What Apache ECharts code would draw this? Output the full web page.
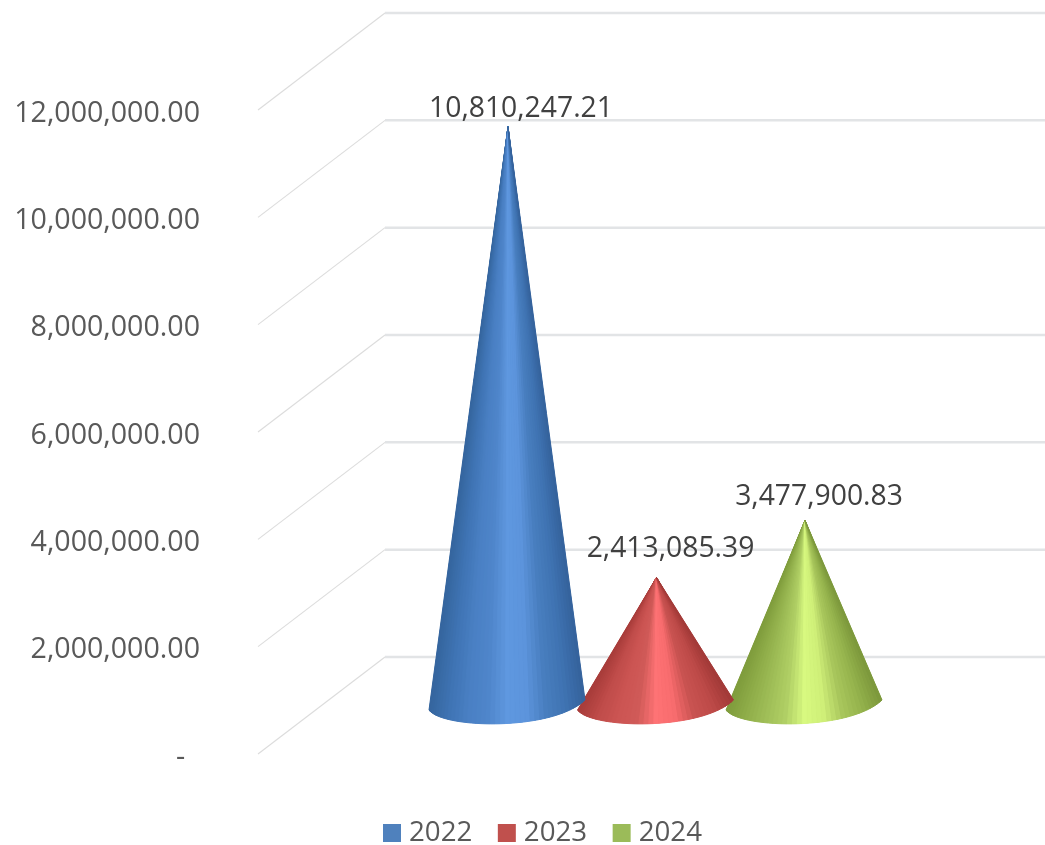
<!DOCTYPE html>
<html>
<head>
<meta charset="utf-8">
<style>html,body{margin:0;padding:0;background:#fff}#c{width:1045px;height:845px}</style>
<script src="https://cdn.jsdelivr.net/npm/echarts@6/dist/echarts.min.js"></script>
</head>
<body>
<div id="c"></div>
<script>
var years = ['2022', '2023', '2024'];
var values = [10810247.21, 2413085.39, 3477900.83];
var valueLabels = ['10,810,247.21', '2,413,085.39', '3,477,900.83'];
var yTicks = [0, 2000000, 4000000, 6000000, 8000000, 10000000, 12000000];
var yTickLabels = ['-  ', '2,000,000.00', '4,000,000.00', '6,000,000.00', '8,000,000.00', '10,000,000.00', '12,000,000.00'];
var categories = ['Total'];

// styling
var legendColors = ['#4f81bd', '#c0504d', '#9bbb59'];
var ramps = [
  ['#35659e', '#3f74b4', '#4a80c4', '#4f86cb', '#5f98e0', '#5c94dc', '#487ebf', '#3f73b2', '#34619a'],
  ['#a83c3a', '#c04c4a', '#cc5553', '#d05a58', '#ff7375', '#f86c6e', '#c95351', '#bd4a48', '#a03836'],
  ['#7f9c3c', '#90ae4a', '#a0bf58', '#b0cf65', '#d8fa80', '#cfef78', '#a8c65c', '#94b24c', '#7a963a']
];
var WALL_DX = 127, WALL_DY = -97, DEPTH_DY = -47, DEPTH_DX = 62, SLOT = 148.5, R = 78;
var labelOffsets = [[13, -18], [14, -29], [14, -23]];

function hex(c) { return [1, 3, 5].map(function (i) { return parseInt(c.substr(i, 2), 16); }); }
function shade(ramp, t) {
  t = Math.max(0, Math.min(1, t));
  var p = t * (ramp.length - 1), i = Math.min(Math.floor(p), ramp.length - 2), f = p - i;
  var a = hex(ramp[i]), b = hex(ramp[i + 1]);
  return 'rgb(' + a.map(function (v, k) { return Math.round(v + (b[k] - v) * f); }).join(',') + ')';
}
function basePoint(cx, cy, t) {
  // cubic along the front of the tilted base ellipse, from left rim to right rim
  var u = 1 - t;
  var p0 = [-R - 1, 3], p1 = [-65, 22], p2 = [45, 24], p3 = [R - 1, -7];
  return [
    cx + u*u*u*p0[0] + 3*u*u*t*p1[0] + 3*u*t*t*p2[0] + t*t*t*p3[0],
    cy + u*u*u*p0[1] + 3*u*u*t*p1[1] + 3*u*t*t*p2[1] + t*t*t*p3[1]
  ];
}

function coneSeries(idx) {
  return {
    type: 'custom',
    name: years[idx],
    itemStyle: { color: legendColors[idx] },
    clip: false,
    z: 3 + (2 - idx),
    data: [[categories[0], values[idx]]],
    encode: { x: 0, y: 1 },
    renderItem: function (params, api) {
      var tip = api.coord([api.value(0), api.value(1)]);
      var zero = api.coord([api.value(0), 0]);
      var cx = tip[0] + DEPTH_DX + (idx - 1) * SLOT;
      var cy = zero[1] + DEPTH_DY;
      var ty = tip[1] + DEPTH_DY;
      var N = 40, outline = [[cx, ty]], children = [];
      for (var j = 0; j <= N; j++) outline.push(basePoint(cx, cy, j / N));
      children.push({ type: 'polygon', shape: { points: outline }, style: { fill: ramps[idx][2] } });
      for (var i = 0; i < N; i++) {
        var a = basePoint(cx, cy, i / N), b = basePoint(cx, cy, (i + 1) / N);
        var col = shade(ramps[idx], ((a[0] + b[0]) / 2 - cx + R) / (2 * R));
        children.push({
          type: 'polygon',
          shape: { points: [[cx, ty], a, b] },
          style: { fill: col, stroke: col, lineWidth: 1 }
        });
      }
      children.push({
        type: 'text',
        style: {
          x: cx + labelOffsets[idx][0], y: ty + labelOffsets[idx][1],
          text: valueLabels[idx], fill: '#404040',
          font: '28.3px "Open Sans"', align: 'center', verticalAlign: 'middle'
        }
      });
      return { type: 'group', children: children };
    }
  };
}

var wallSeries = {
  type: 'custom',
  name: 'wall',
  silent: true,
  clip: false,
  z: 1,
  data: yTicks.map(function (v) { return [categories[0], v]; }),
  encode: { x: 0, y: 1 },
  renderItem: function (params, api) {
    var p = api.coord([api.value(0), api.value(1)]);
    var c = params.coordSys;
    var y = p[1];
    return {
      type: 'group',
      children: [
        { type: 'line', shape: { x1: c.x, y1: y, x2: c.x + WALL_DX, y2: y + WALL_DY },
          style: { stroke: '#dcdcdc', lineWidth: 1.1 } },
        { type: 'line', shape: { x1: c.x + WALL_DX, y1: y + WALL_DY, x2: 1045, y2: y + WALL_DY },
          style: { stroke: '#e2e4e6', lineWidth: 2.5 } }
      ]
    };
  }
};

var chart = echarts.init(document.getElementById('c'), null, { renderer: 'canvas' });
chart.setOption({
  animation: false,
  backgroundColor: '#fff',
  grid: { left: 258, width: 673, top: 110, height: 644 },
  legend: {
    left: 378, top: 814,
    icon: 'rect', itemWidth: 18, itemHeight: 18, itemGap: 25.5,
    data: years,
    textStyle: { fontFamily: 'Open Sans', fontSize: 27.7, color: '#595959', padding: [0, 0, 0, 3] }
  },
  xAxis: { type: 'category', data: categories, show: false },
  yAxis: {
    type: 'value', min: 0, max: 12000000, interval: 2000000,
    axisLine: { show: false }, axisTick: { show: false }, splitLine: { show: false },
    axisLabel: {
      margin: 58, fontFamily: 'Open Sans', fontSize: 28.6, color: '#595959',
      verticalAlign: 'top', lineHeight: 7,
      formatter: function (v) { return yTickLabels[yTicks.indexOf(v)]; }
    }
  },
  series: [wallSeries, coneSeries(0), coneSeries(1), coneSeries(2)]
});
</script>
</body>
</html>
